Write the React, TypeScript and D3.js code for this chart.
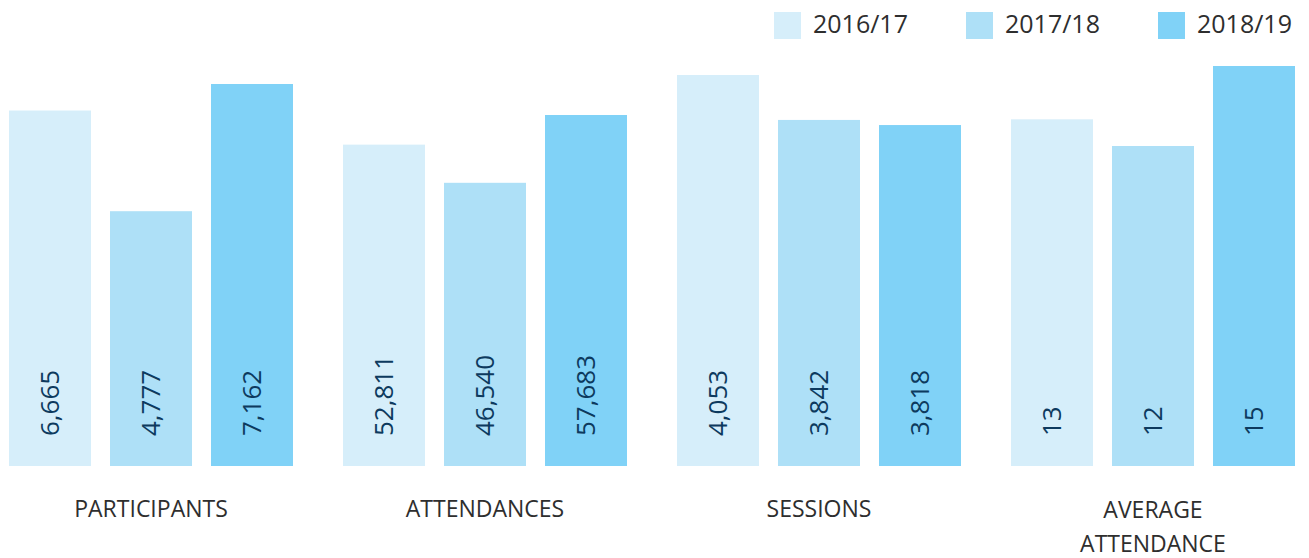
import React from "react";
import * as d3 from "d3";

const categories = ["PARTICIPANTS", "ATTENDANCES", "SESSIONS", "AVERAGE ATTENDANCE"];
const seriesNames = ["2016/17", "2017/18", "2018/19"];
const values2016 = [6665, 52811, 4053, 13];
const values2017 = [4777, 46540, 3842, 12];
const values2018 = [7162, 57683, 3818, 15];
const seriesValues = [values2016, values2017, values2018];

// Each category is drawn on its own scale in the original
const groupDomainMin = [0, 0, 2217, 0];
const groupTopY = [84, 115, 75, 66];

const colors = ["#d6eefa", "#aee0f7", "#80d2f7"];

const W = 1309;
const H = 558;
const baseY = 466;

export default function App() {
  const x0 = d3.scaleBand<string>().domain(categories).range([9, 1295]).paddingInner(50 / 334).paddingOuter(0);
  const x1 = d3.scaleBand<string>().domain(seriesNames).range([0, x0.bandwidth()]).paddingInner(19 / 101).paddingOuter(0);
  const fmt = d3.format(",");
  const valueFont = 26;

  return (
    <svg width={W} height={H} style={{ position: "absolute", left: 0, top: 0, display: "block", background: "#fff" }}>
      {categories.map((cat, gi) => {
        const maxV = d3.max(seriesValues, (s) => s[gi]) as number;
        const y = d3.scaleLinear().domain([groupDomainMin[gi], maxV]).range([baseY, groupTopY[gi]]);
        const gx = x0(cat) as number;
        const lines = cat === "AVERAGE ATTENDANCE" ? ["AVERAGE", "ATTENDANCE"] : [cat];
        return (
          <g key={cat}>
            {seriesNames.map((sn, si) => {
              const v = seriesValues[si][gi];
              const bx = gx + (x1(sn) as number);
              const cx = bx + x1.bandwidth() / 2;
              const ty = 436;
              const tx = cx + valueFont * 0.357;
              return (
                <g key={sn}>
                  <rect x={bx} y={y(v)} width={x1.bandwidth()} height={baseY - y(v)} fill={colors[si]} />
                  <text
                    transform={`translate(${tx},${ty}) rotate(-90)`}
                    textAnchor="start"
                    fontFamily="'Open Sans', sans-serif"
                    fontSize={valueFont}
                    fill="#0d3a5e"
                  >
                    {fmt(v)}
                  </text>
                </g>
              );
            })}
            {lines.map((ln, li) => (
              <text
                key={ln}
                x={gx + x0.bandwidth() / 2}
                y={(lines.length > 1 ? 518 : 517) + li * 34}
                textAnchor="middle"
                fontFamily="'Open Sans', sans-serif"
                fontSize={23}
                fill="#2e2e2e"
              >
                {ln}
              </text>
            ))}
          </g>
        );
      })}
      {seriesNames.map((sn, si) => {
        const lx = 774 + si * 192;
        return (
          <g key={sn}>
            <rect x={lx} y={12} width={27} height={27} fill={colors[si]} />
            <text x={lx + 39} y={33} fontFamily="'Open Sans', sans-serif" fontSize={25} fill="#2e2e2e">
              {sn}
            </text>
          </g>
        );
      })}
    </svg>
  );
}
